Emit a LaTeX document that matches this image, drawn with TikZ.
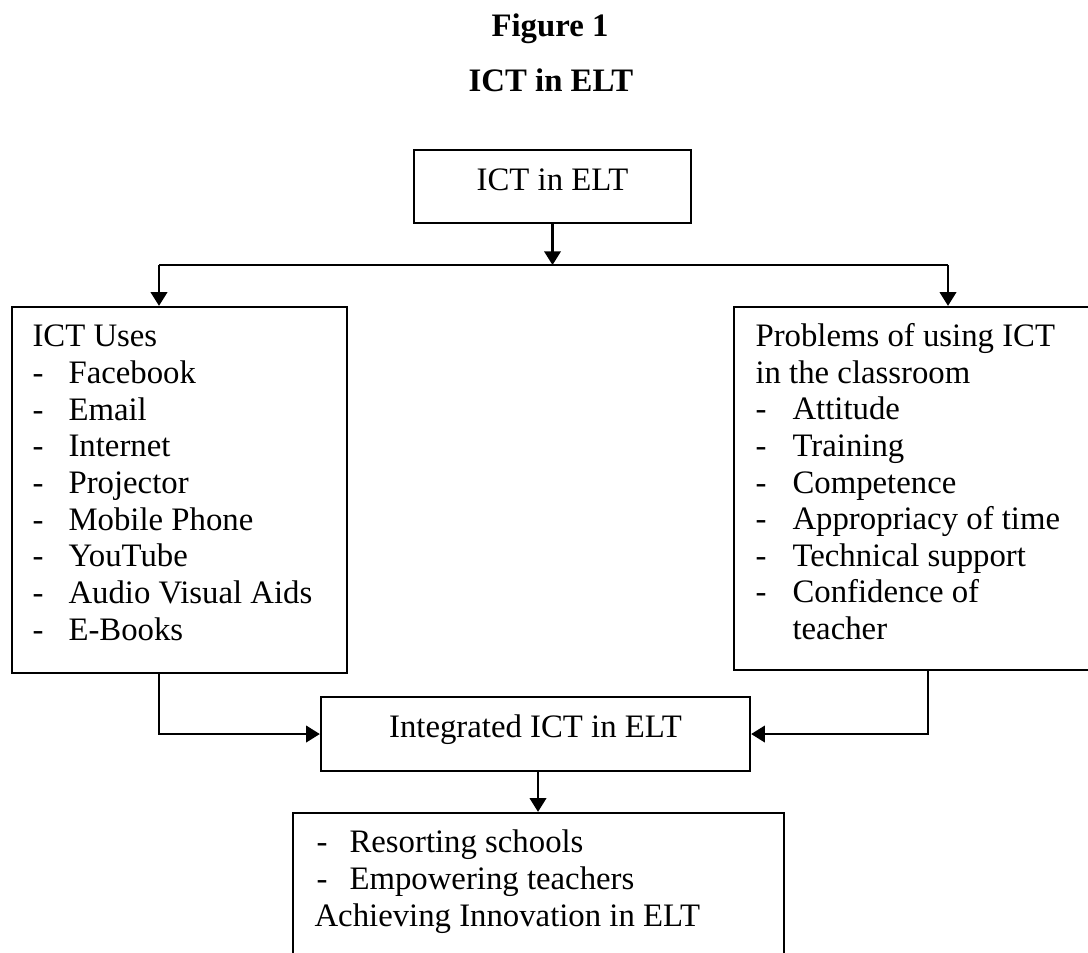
\documentclass[tikz,border=0pt]{standalone}
\usepackage{fontspec}
\setmainfont{Liberation Serif}
\usetikzlibrary{arrows.meta,fit}
\begin{document}
\begin{tikzpicture}[x=0.3662pt,y=-0.3662pt,
  box/.style={draw,line width=0.85pt,inner sep=0pt},
  txt/.style={inner sep=0pt,anchor=base west,font=\fontsize{12pt}{14pt}\selectfont},
  ctxt/.style={inner sep=0pt,anchor=base,font=\fontsize{12pt}{14pt}\selectfont},
  conn/.style={line width=0.85pt},
  arr/.style={line width=0.85pt,-{Triangle[length=5pt,width=6pt]}}]
\useasboundingbox (0,0) rectangle (1088,952);
\clip (0,0) rectangle (1088,952);
% titles
\node[ctxt,font=\fontsize{12pt}{14pt}\selectfont\bfseries] (fig) at (550,36) {Figure 1};
\node[ctxt,font=\fontsize{12pt}{14pt}\selectfont\bfseries] (title) at (551,91.7) {ICT in ELT};
% boxes
\node[box,fit={(414,150) (691,223)}] (top) {};
\node[box,fit={(12,307) (347,673)}] (uses) {};
\node[box,fit={(734,307) (1110,670)}] (probs) {};
\node[box,fit={(321,697) (750,771)}] (integ) {};
\node[box,fit={(293,813) (784,980)}] (out) {};
% box texts
\node[ctxt] (toptxt) at (552.5,190) {ICT in ELT};
\node[ctxt] (integtxt) at (535.5,737.7) {Integrated ICT in ELT};
\node[txt] (usesh) at (32,346.7) {ICT Uses};
\foreach \t [count=\i] in {Facebook,Email,Internet,Projector,Mobile Phone,YouTube,Audio Visual Aids,E-Books}{
  \node[txt] (ud\i) at (32,346.7+36.67*\i) {-};
  \node[txt] (ut\i) at (68,346.7+36.67*\i) {\t};
}
\node[txt] (probh1) at (755,346.7) {Problems of using ICT};
\node[txt] (probh2) at (755,383.3) {in the classroom};
\foreach \t [count=\i] in {Attitude,Training,Competence,Appropriacy of time,Technical support,Confidence of}{
  \node[txt] (pd\i) at (755,383.3+36.6*\i) {-};
  \node[txt] (pt\i) at (792,383.3+36.6*\i) {\t};
}
\node[txt] (pt7) at (792,639.3) {teacher};
\node[txt] (od1) at (316,852.7) {-};
\node[txt] (ot1) at (349,852.7) {Resorting schools};
\node[txt] (od2) at (316,889.5) {-};
\node[txt] (ot2) at (349,889.5) {Empowering teachers};
\node[txt] (ot3) at (314,926.5) {Achieving Innovation in ELT};
% connectors
\coordinate (jl) at (159,265);
\coordinate (jr) at (948,265);
\coordinate (jc) at (top.south |- jl);
\draw[arr] (top.south) -- (jc);
\draw[conn] (jl) -- (jr);
\draw[arr] (jl) -- (jl |- uses.north);
\draw[arr] (jr) -- (jr |- probs.north);
\coordinate (ul) at (159,673);
\coordinate (pr) at (928,670);
\draw[arr] (ul) |- (integ.west);
\draw[arr] (pr) |- (integ.east);
\coordinate (ib) at (538,771);
\draw[arr] (ib) -- (ib |- out.north);
\end{tikzpicture}
\end{document}
